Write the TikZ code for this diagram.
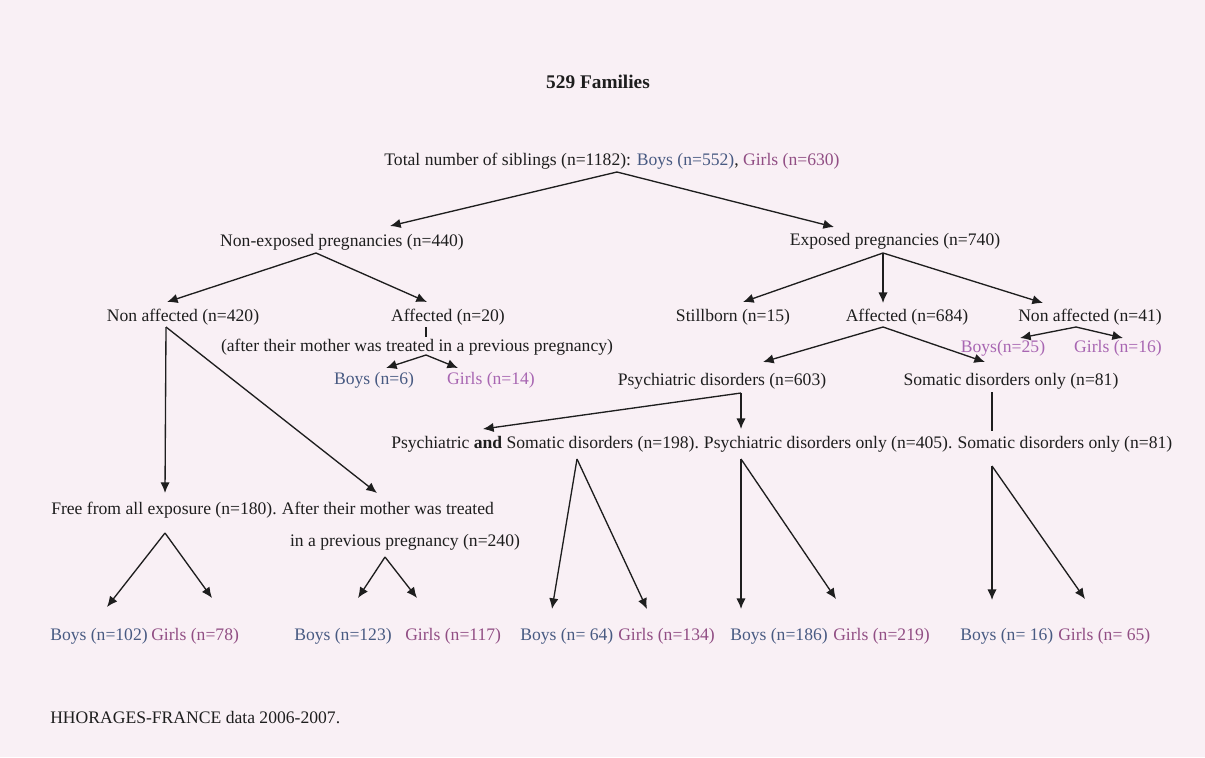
\documentclass[tikz,border=0pt]{standalone}
\usepackage{fontspec}
\setmainfont{Liberation Serif}
\usetikzlibrary{arrows.meta}
\definecolor{fondo}{RGB}{249,240,245}
\definecolor{tinta}{RGB}{30,30,30}
\definecolor{chicos}{RGB}{72,90,130}
\definecolor{chicas}{RGB}{145,78,132}
\definecolor{chicasclaro}{RGB}{168,102,178}
\begin{document}
\begin{tikzpicture}[
        x=0.75pt, y=-0.75pt,
        texto/.style={font=\fontsize{13.2}{15}\selectfont, text=tinta, inner sep=0pt},
        nino/.style={texto, text=chicos, anchor=west},
        nina/.style={texto, text=chicas, anchor=west},
        flecha/.style={draw=tinta, line width=1pt, -{Latex[length=8pt,width=7pt]}},
        linea/.style={draw=tinta, line width=1pt}
    ]
        % Fondo del papel
        \fill[fondo] (0,0) rectangle (1205,757);
        \useasboundingbox (0,0) rectangle (1205,757);

        % Cabecera
        \node[texto, font=\fontsize{14.5}{16}\selectfont\bfseries] (titulo) at (598,82) {529 Families};
        \node[texto] (total) at (612,161) {Total number of siblings (n=1182): \textcolor{chicos}{Boys (n=552)}, \textcolor{chicas}{Girls (n=630)}};

        % Primer nivel
        \node[texto] (noexp) at (342,242) {Non-exposed pregnancies (n=440)};
        \node[texto] (exp) at (895,241) {Exposed pregnancies (n=740)};

        % Rama no expuesta
        \node[texto] (noaf420) at (183,317) {Non affected (n=420)};
        \node[texto] (af20) at (448,317) {Affected (n=20)};
        \node[texto] (tras20) at (417,347) {(after their mother was treated in a previous pregnancy)};
        \node[texto, text=chicos] (b6) at (374,380) {Boys (n=6)};
        \node[texto, text=chicasclaro] (g14) at (491,380) {Girls (n=14)};
        \node[texto, anchor=west] (libre) at (51,510) {Free from all exposure (n=180).};
        \node[texto, anchor=base west] (tras1) at ([xshift=3.4pt]libre.base east) {After their mother was treated};
        \node[texto] (tras2) at (405,542) {in a previous pregnancy (n=240)};

        % Rama expuesta
        \node[texto] (muerto) at (733,317) {Stillborn (n=15)};
        \node[texto] (af684) at (907,317) {Affected (n=684)};
        \node[texto] (noaf41) at (1090,317) {Non affected (n=41)};
        \node[texto, text=chicasclaro] (b25) at (1003,348) {Boys(n=25)};
        \node[texto, text=chicasclaro] (g16) at (1118,348) {Girls (n=16)};
        \node[texto] (psi603) at (722,381) {Psychiatric disorders (n=603)};
        \node[texto] (som81) at (1011,381) {Somatic disorders only (n=81)};
        \node[texto, anchor=west] (ps198) at (391,444) {Psychiatric \textbf{and} Somatic disorders (n=198).};
        \node[texto, anchor=base west] (p405) at ([xshift=3.4pt]ps198.base east) {Psychiatric disorders only (n=405).};
        \node[texto, anchor=base west] (s81) at ([xshift=3.4pt]p405.base east) {Somatic disorders only (n=81)};

        % Fila final: chicos y chicas
        \node[nino] (b102) at (50,636) {Boys (n=102)};
        \node[nina] (g78) at (151,636) {Girls (n=78)};
        \node[nino] (b123) at (294,636) {Boys (n=123)};
        \node[nina] (g117) at (405,636) {Girls (n=117)};
        \node[nino] (b64) at (520,636) {Boys (n= 64)};
        \node[nina] (g134) at (618,636) {Girls (n=134)};
        \node[nino] (b186) at (730,636) {Boys (n=186)};
        \node[nina] (g219) at (833,636) {Girls (n=219)};
        \node[nino] (b16) at (960,636) {Boys (n= 16)};
        \node[nina] (g65) at (1058,636) {Girls (n= 65)};

        \node[texto, anchor=west] (fuente) at (50,718) {HHORAGES-FRANCE data 2006-2007.};

        % Puntos de salida y de llegada de las flechas
        \coordinate (total-s) at (617,172);
        \coordinate (noexp-n) at (390,226);
        \coordinate (exp-n) at (834,227);
        \coordinate (noexp-s) at (316,253);
        \coordinate (noaf420-n) at (167,302);
        \coordinate (af20-n) at (427,302);
        \coordinate (noaf420-s) at (166,327);
        \coordinate (libre-n) at (165,493);
        \coordinate (tras1-n) at (377,493);
        \coordinate (af20-s) at (426,327);
        \coordinate (tras20-n) at (426,337);
        \coordinate (tras20-s) at (426,355);
        \coordinate (b6-n) at (386,368);
        \coordinate (g14-n) at (458,368);
        \coordinate (libre-s) at (165,533);
        \coordinate (b102-n) at (107,607);
        \coordinate (g78-n) at (212,598);
        \coordinate (tras2-s) at (385,557);
        \coordinate (b123-n) at (358,598);
        \coordinate (g117-n) at (417,598);
        \coordinate (exp-s) at (883,253);
        \coordinate (muerto-n) at (743,302);
        \coordinate (af684-n) at (883,303);
        \coordinate (noaf41-n) at (1043,303);
        \coordinate (noaf41-s) at (1076,327);
        \coordinate (b25-n) at (1020,338);
        \coordinate (g16-n) at (1123,338);
        \coordinate (af684-s) at (883,327);
        \coordinate (psi603-n) at (763,362);
        \coordinate (som81-n) at (985,362);
        \coordinate (psi603-s) at (741,393);
        \coordinate (ps198-n) at (483,429);
        \coordinate (p405-n) at (741,429);
        \coordinate (som81-s) at (992,392);
        \coordinate (s81-n) at (992,431);
        \coordinate (ps198-s) at (577,459);
        \coordinate (b64-n) at (552,609);
        \coordinate (g134-n) at (647,609);
        \coordinate (p405-s) at (741,459);
        \coordinate (b186-n) at (741,609);
        \coordinate (g219-n) at (836,599);
        \coordinate (s81-s) at (992,466);
        \coordinate (b16-n) at (992,600);
        \coordinate (g65-n) at (1085,599);

        % Conectores
        \draw[flecha] (total-s) -- (noexp-n);
        \draw[flecha] (total-s) -- (exp-n);
        \draw[flecha] (noexp-s) -- (noaf420-n);
        \draw[flecha] (noexp-s) -- (af20-n);
        \draw[flecha] (noaf420-s) -- (libre-n);
        \draw[flecha] (noaf420-s) -- (tras1-n);
        \draw[linea] (af20-s) -- (tras20-n);
        \draw[flecha] (tras20-s) -- (b6-n);
        \draw[flecha] (tras20-s) -- (g14-n);
        \draw[flecha] (libre-s) -- (b102-n);
        \draw[flecha] (libre-s) -- (g78-n);
        \draw[flecha] (tras2-s) -- (b123-n);
        \draw[flecha] (tras2-s) -- (g117-n);
        \draw[flecha] (exp-s) -- (muerto-n);
        \draw[flecha] (exp-s) -- (af684-n);
        \draw[flecha] (exp-s) -- (noaf41-n);
        \draw[flecha] (noaf41-s) -- (b25-n);
        \draw[flecha] (noaf41-s) -- (g16-n);
        \draw[flecha] (af684-s) -- (psi603-n);
        \draw[flecha] (af684-s) -- (som81-n);
        \draw[flecha] (psi603-s) -- (ps198-n);
        \draw[flecha] (psi603-s) -- (p405-n);
        \draw[linea] (som81-s) -- (s81-n);
        \draw[flecha] (ps198-s) -- (b64-n);
        \draw[flecha] (ps198-s) -- (g134-n);
        \draw[flecha] (p405-s) -- (b186-n);
        \draw[flecha] (p405-s) -- (g219-n);
        \draw[flecha] (s81-s) -- (b16-n);
        \draw[flecha] (s81-s) -- (g65-n);
    \end{tikzpicture}
\end{document}
